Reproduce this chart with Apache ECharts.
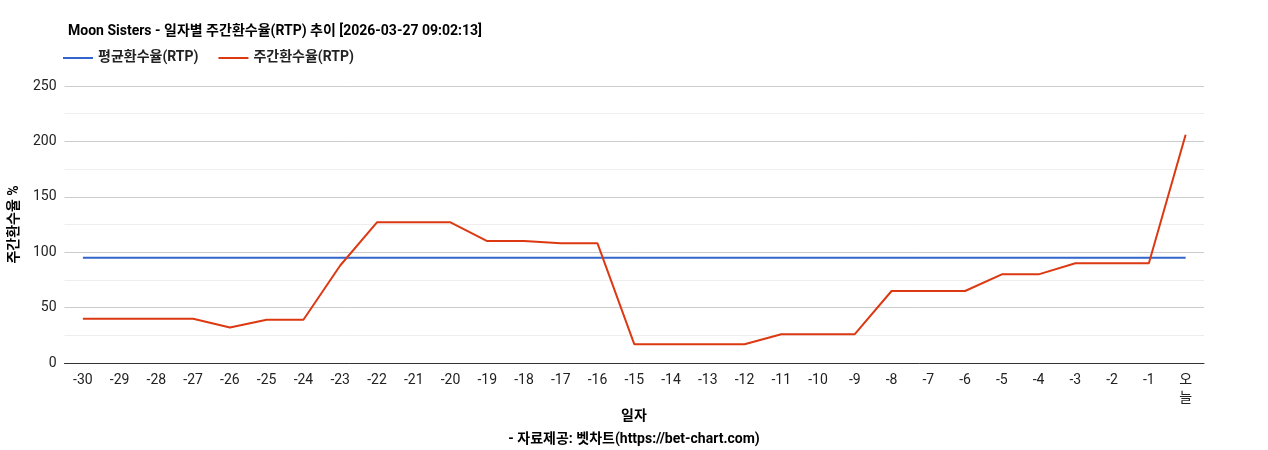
<!DOCTYPE html>
<html><head><meta charset="utf-8">
<script src="https://cdn.jsdelivr.net/npm/echarts@6/dist/echarts.min.js"></script>
<style>html,body{margin:0;background:#fff}#c{width:1268px;height:450px}</style>
</head><body><div id="c"></div>
<script>
const days = ['-30','-29','-28','-27','-26','-25','-24','-23','-22','-21','-20','-19','-18','-17','-16','-15','-14','-13','-12','-11','-10','-9','-8','-7','-6','-5','-4','-3','-2','-1','오\n늘'];
const weekly = [40,40,40,40,32,39,39,88,127,127,127,110,110,108,108,17,17,17,17,26,26,26,65,65,65,80,80,90,90,90,206];
const avgValue = 95;
const average = days.map(() => avgValue);
const font = 'Roboto, "Noto Sans CJK KR", sans-serif';

const chart = echarts.init(document.getElementById('c'));
chart.setOption({
  animation: false,
  textStyle: {fontFamily: font},
  title: [
    {text: 'Moon Sisters - 일자별 주간환수율(RTP) 추이 [2026-03-27 09:02:13]', left: 63, top: 20,
     textStyle: {fontSize: 14, fontWeight: 'bold', color: '#000', fontFamily: font}},
    {text: '일자', left: 'center', top: 405, textStyle: {fontSize: 14, fontWeight: 'bold', color: '#000', fontFamily: font}},
    {text: '- 자료제공: 벳차트(https://bet-chart.com)', left: 'center', top: 428,
     textStyle: {fontSize: 14, fontWeight: 'bold', color: '#000', fontFamily: font}}
  ],
  legend: {left: 58, top: 46, itemWidth: 30, itemHeight: 2, itemGap: 20, icon: 'rect',
    textStyle: {fontSize: 14, fontWeight: 'bold', color: '#222', fontFamily: font},
    data: ['평균환수율(RTP)', '주간환수율(RTP)']},
  grid: {left: 64, right: 64, top: 86, bottom: 87},
  xAxis: {type: 'category', data: days, boundaryGap: true,
    axisLine: {lineStyle: {color: '#333'}}, axisTick: {show: false},
    axisLabel: {color: '#222', fontSize: 14, interval: 0, margin: 8, lineHeight: 18}},
  yAxis: {type: 'value', min: 0, max: 250, interval: 50,
    name: '주간환수율 %', nameLocation: 'middle', nameGap: 36, nameRotate: 90,
    nameTextStyle: {fontSize: 14, fontWeight: 'bold', color: '#000'},
    axisLine: {show: false}, axisTick: {show: false},
    axisLabel: {color: '#222', fontSize: 14},
    splitLine: {lineStyle: {color: '#ccc'}},
    minorTick: {show: false, splitNumber: 2},
    minorSplitLine: {show: true, lineStyle: {color: '#eee'}}},
  series: [
    {name: '평균환수율(RTP)', type: 'line', data: average, symbol: 'none',
     lineStyle: {color: '#3366cc', width: 2}, itemStyle: {color: '#3366cc'}},
    {name: '주간환수율(RTP)', type: 'line', data: weekly, symbol: 'none',
     lineStyle: {color: '#dc3912', width: 2}, itemStyle: {color: '#dc3912'}}
  ]
});
</script></body></html>
